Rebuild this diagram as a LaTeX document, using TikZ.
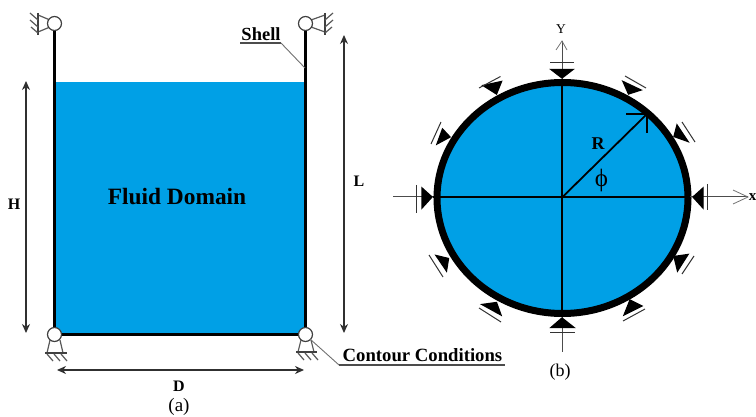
\documentclass[tikz,border=0pt]{standalone}
\usepackage{fontspec}
\setmainfont{Liberation Serif}
\usetikzlibrary{arrows.meta}
\definecolor{fluid}{HTML}{00A0E6}
\definecolor{dim}{HTML}{303030}
\definecolor{soft}{HTML}{707070}
\tikzset{
  wall/.style={line width=3pt,black},
  hinge/.style={draw=black!75,line width=1.2pt,fill=white,circle,minimum size=14pt,inner sep=0pt},
  thin support/.style={line width=1.2pt,black!65},
  dimline/.style={line width=1.4pt,dim,{Stealth[length=9pt,width=8pt]}-{Stealth[length=9pt,width=8pt]}},
  leader/.style={line width=.9pt,soft},
  under/.style={line width=1.1pt,black!70},
  tri/.style={fill=black,draw=black,line width=1.3pt,line join=miter},
  bar/.style={line width=1pt,black!80},
  axis/.style={line width=1.4pt,black},
  axisgray/.style={line width=1pt,black!70},
  head/.style={line width=.8pt,black!55},
  lab/.style={font=\bfseries\fontsize{16}{18}\selectfont,inner sep=0pt,text=black},
}
\begin{document}
\begin{tikzpicture}[x=1pt,y=-1pt]
\useasboundingbox (0,0) rectangle (756,417);
% panel (a)
\fill[fluid] (54,82) rectangle (306,334);
\coordinate (tl) at (54.5,23.5);
\coordinate (tr) at (305.5,23.5);
\coordinate (bl) at (54.5,334.5);
\coordinate (br) at (305.5,334.5);
\draw[wall,line join=round] (tl) -- (bl) -- (br) -- (tr);
% supports top left
\draw[thin support] (50,20) -- (38,15) (50,27) -- (38,32);
\draw[line width=1.5pt,black!75] (38,13) -- (38,35);
\draw[thin support] (38,20) -- (30,13) (38,27) -- (30,20) (38,33) -- (31,27);
\node[hinge] (h1) at (tl) {};
% top right
\draw[thin support] (311,20) -- (325,15) (311,27) -- (325,32);
\draw[line width=1.5pt,black!75] (325,13) -- (325,35);
\draw[thin support] (325,20) -- (333,13) (325,27) -- (333,20) (325,33) -- (332,27);
\node[hinge] (h2) at (tr) {};
% bottom left
\draw[thin support] (50,340) -- (47,353) (60,340) -- (63,353);
\draw[line width=1.5pt,black!75] (45,353) -- (67,353);
\draw[thin support] (47,354) -- (53,361) (54,354) -- (60,361) (61,354) -- (67,361);
\node[hinge] (h3) at (bl) {};
% bottom right
\draw[thin support] (301,340) -- (298,352) (311,340) -- (314,352);
\draw[line width=1.5pt,black!75] (296,352) -- (317,352);
\draw[thin support] (298,353) -- (304,360) (305,353) -- (311,360) (312,353) -- (318,360);
\node[hinge] (h4) at (br) {};
% dimensions
\coordinate (hT) at (26,81); \coordinate (hB) at (26,333);
\coordinate (lT) at (344,35); \coordinate (lB) at (344,333);
\coordinate (dL) at (57,370); \coordinate (dR) at (304,370);
\draw[dimline] (hT) -- (hB);
\draw[dimline] (lT) -- (lB);
\draw[dimline] (dL) -- (dR);
\node[lab] (H) at (14,204) {H};
\node[lab] (L) at (359,181) {L};
\node[lab] (D) at (179,386.5) {D};
\node[font=\fontsize{19}{21}\selectfont,inner sep=0pt] (a) at (179,407) {(a)};
\node[font=\bfseries\fontsize{23.4}{25}\selectfont,inner sep=0pt] (fd) at (177,197) {Fluid Domain};
\node[font=\bfseries\fontsize{18.5}{20}\selectfont,inner sep=0pt] (shell) at (261,34.5) {Shell};
\node[font=\bfseries\fontsize{18.7}{20}\selectfont,inner sep=0pt] (cc) at (422.5,355) {Contour Conditions};
\coordinate (s1) at (240,43); \coordinate (s2) at (281,43); \coordinate (s3) at (305,68);
\draw[under] (s1) -- (s2);
\draw[leader] (s2) -- (s3);
\coordinate (c1) at (310,339); \coordinate (c2) at (339,365); \coordinate (c3) at (505,365);
\draw[leader] (c1) -- (c2);
\draw[under] (c2) -- (c3);
% panel (b)
\coordinate (O) at (562.5,197);
\draw[fill=fluid,draw=black,line width=7pt] (562.5,198) ellipse [x radius=125.5,y radius=115.5];
% axes
\coordinate (xL) at (393,197); \coordinate (xI) at (433,197); \coordinate (xR) at (690,197); \coordinate (xE) at (748,197);
\coordinate (yT) at (562,41); \coordinate (yI) at (562,79); \coordinate (yB) at (562,317); \coordinate (yE) at (562,352);
\draw[axis] (xI) -- (xR);
\draw[axisgray] (xL) -- (xI);
\draw[axisgray] (xR) -- (xE);
\draw[axis,line width=1.1pt] (yI) -- (yB);
\draw[axisgray] (yT) -- (yI);
\draw[axisgray] (yB) -- (yE);
\draw[head] (733,190) -- (xE) -- (733,204);
\draw[head] (556,50) -- (yT) -- (567,50);
% radius
\coordinate (Rt) at (647,114);
\draw[line width=1.8pt,line join=miter] (O) -- (Rt);
\draw[line width=1.4pt,line join=miter] (626,114) -- (Rt) -- (647,133);
\node[font=\bfseries\fontsize{18}{20}\selectfont,inner sep=0pt] (R) at (598,144) {R};
\node[font=\fontsize{25}{27}\selectfont,inner sep=0pt] (phi) at (601.5,180) {ϕ};
% supports of the circle
\draw[tri] (432,197) -- (422,188) -- (422,208) -- cycle;
\draw[bar] (416.7,185) -- (416.7,213);
\draw[tri] (693,197) -- (703,188) -- (703,208) -- cycle;
\draw[bar] (707,184) -- (707,210);
\draw[tri] (562,78) -- (551,69.5) -- (573,69.5) -- cycle;
\draw[bar] (550,63) -- (574,63);
\draw[tri] (562,318) -- (551,327.5) -- (574,327.5) -- cycle;
\draw[bar] (550,332) -- (575,332);
\draw[tri] (483,85.5) -- (501.5,81.5) -- (496.5,94) -- cycle;
\draw[bar] (479,88) -- (500.5,76.5);
\draw[tri] (442.5,129) -- (450,137) -- (437,144) -- cycle;
\draw[bar] (431,144) -- (441,122);
\draw[tri] (623,81.5) -- (641,90) -- (628.5,94) -- cycle;
\draw[bar] (625,76) -- (646,88);
\draw[tri] (677,125) -- (688,141.5) -- (674,136.5) -- cycle;
\draw[bar] (682,122) -- (695,142);
\draw[tri] (436,255.5) -- (448.5,258.5) -- (446.5,271) -- cycle;
\draw[bar] (429,255) -- (443,277);
\draw[tri] (674,256.5) -- (688,254.5) -- (677.5,271) -- cycle;
\draw[bar] (694,256) -- (682,274);
\draw[tri] (482,304.5) -- (496.5,302.5) -- (501,315) -- cycle;
\draw[bar] (479,308) -- (501,322);
\draw[tri] (630,300) -- (642,306) -- (624,315) -- cycle;
\draw[bar] (645,309) -- (623,321);
% labels
\node[font=\fontsize{13.5}{15}\selectfont,inner sep=0pt] (Y) at (561,29) {Y};
\node[font=\bfseries\fontsize{15}{17}\selectfont,inner sep=0pt] (X) at (752.5,197) {x};
\node[font=\fontsize{18}{20}\selectfont,inner sep=0pt] (b) at (560,372) {(b)};
\end{tikzpicture}
\end{document}
